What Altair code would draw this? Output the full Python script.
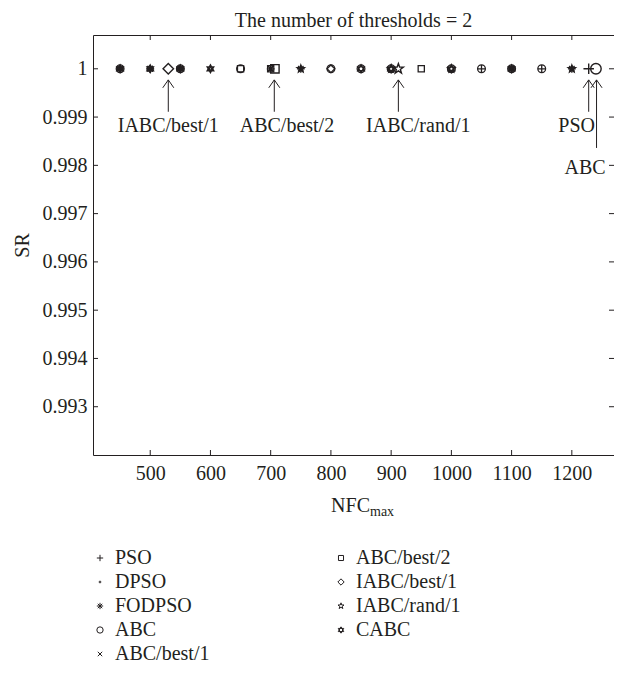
import altair as alt
import pandas as pd

INK = "#231f20"
FONT = "Liberation Serif"
FS = 20
W, H = 521, 420

# ---- data ----
methods = ["PSO", "DPSO", "FODPSO", "ABC", "ABC/best/1",
           "ABC/best/2", "IABC/best/1", "IABC/rand/1", "CABC"]

nfc_pso = [500, 550, 1050, 1150]
sr_pso = [1, 1, 1, 1]
nfc_dpso = [450, 500, 600, 700]
sr_dpso = [1, 1, 1, 1]
nfc_fodpso = [450, 500, 550, 700, 750, 1100, 1200]
sr_fodpso = [1, 1, 1, 1, 1, 1, 1]
nfc_abc = [450, 550, 650, 800, 850, 900, 1000, 1050, 1100, 1150]
sr_abc = [1, 1, 1, 1, 1, 1, 1, 1, 1, 1]
nfc_abc_best1 = [500, 700, 1100]
sr_abc_best1 = [1, 1, 1]
nfc_abc_best2 = [650, 700, 950]
sr_abc_best2 = [1, 1, 1]
nfc_iabc_best1 = [800]
sr_iabc_best1 = [1]
nfc_iabc_rand1 = [750, 900, 1000, 1200]
sr_iabc_rand1 = [1, 1, 1, 1]
nfc_cabc = [450, 500, 550, 600, 850, 900, 1000, 1100]
sr_cabc = [1, 1, 1, 1, 1, 1, 1, 1]

# highlighted (annotated) points
hl_method = ["IABC/best/1", "ABC/best/2", "IABC/rand/1", "PSO", "ABC"]
hl_nfc = [530, 707, 912, 1228, 1240]
hl_sr = [1, 1, 1, 1, 1]

# annotations
ann_text = ["IABC/best/1", "ABC/best/2", "IABC/rand/1", "PSO", "ABC"]
ann_arrow_x = [530, 706, 912, 1228, 1241]
ann_head_y = [0.99977, 0.99977, 0.99977, 0.99977, 0.99977]
ann_tail_y = [0.99911, 0.99911, 0.99911, 0.99911, 0.99836]
ann_text_x = [530, 727, 945, 1208, 1222]
ann_text_y = [0.99882, 0.99882, 0.99882, 0.99882, 0.99795]

x_ticks = [500, 600, 700, 800, 900, 1000, 1100, 1200]
y_ticks = [0.993, 0.994, 0.995, 0.996, 0.997, 0.998, 0.999, 1.0]

# ---- build tables ----
series = [
    ("PSO", nfc_pso, sr_pso), ("DPSO", nfc_dpso, sr_dpso),
    ("FODPSO", nfc_fodpso, sr_fodpso), ("ABC", nfc_abc, sr_abc),
    ("ABC/best/1", nfc_abc_best1, sr_abc_best1),
    ("ABC/best/2", nfc_abc_best2, sr_abc_best2),
    ("IABC/best/1", nfc_iabc_best1, sr_iabc_best1),
    ("IABC/rand/1", nfc_iabc_rand1, sr_iabc_rand1),
    ("CABC", nfc_cabc, sr_cabc),
]
rows = []
for m, xs_, ys_ in series:
    for xv, yv in zip(xs_, ys_):
        rows.append({"method": m, "NFC": xv, "SR": yv})
pts = pd.DataFrame(rows)
hl = pd.DataFrame({"method": hl_method, "NFC": hl_nfc, "SR": hl_sr})
ann = pd.DataFrame({"text": ann_text, "NFC": ann_arrow_x, "SR": ann_head_y,
                    "SR2": ann_tail_y, "tx": ann_text_x, "ty": ann_text_y})
xt = pd.DataFrame({"NFC": x_ticks})
yt = pd.DataFrame({"SR": y_ticks})

# ---- shapes ----
P_PLUS = "M-1,0L1,0M0,-1L0,1"
P_DOT = "M-0.3,0A0.3,0.3 0 1,0 0.3,0A0.3,0.3 0 1,0 -0.3,0Z"
P_AST = "M0,-1L0,1M-1,0L1,0M-0.7,-0.7L0.7,0.7M-0.7,0.7L0.7,-0.7"
P_X = "M-0.7,-0.7L0.7,0.7M-0.7,0.7L0.7,-0.7"
P_SQ = "M-0.8,-0.8L0.8,-0.8L0.8,0.8L-0.8,0.8Z"
P_DIA = "M0,-1L1,0L0,1L-1,0Z"
P_STAR = ("M0,-1L0.235,-0.324L0.951,-0.309L0.38,0.124L0.588,0.809L0,0.4"
          "L-0.588,0.809L-0.38,0.124L-0.951,-0.309L-0.235,-0.324Z")
P_HEX = "M0,-1L0.866,0.5L-0.866,0.5ZM0,1L0.866,-0.5L-0.866,-0.5Z"
shape_of = {"PSO": P_PLUS, "DPSO": P_DOT, "FODPSO": P_AST, "ABC": "circle",
            "ABC/best/1": P_X, "ABC/best/2": P_SQ, "IABC/best/1": P_DIA,
            "IABC/rand/1": P_STAR, "CABC": P_HEX}
shape_scale = alt.Scale(domain=methods, range=[shape_of[m] for m in methods])

xs = alt.Scale(domain=[405, 1270], nice=False, zero=False)
ys = alt.Scale(domain=[0.992, 1.0007], nice=False, zero=False)

x_enc = alt.X("NFC:Q", scale=xs, axis=alt.Axis(
    values=x_ticks, format="d", tickSize=0, domain=False, grid=False,
    title=None, labelFont=FONT, labelFontSize=FS, labelColor=INK,
    labelPadding=8))
y_enc = alt.Y("SR:Q", scale=ys, axis=alt.Axis(
    values=y_ticks, format=".3~f", tickSize=0, domain=False, grid=False,
    title="SR", titleFont=FONT, titleFontSize=FS, titleFontWeight="normal",
    titleColor=INK, titlePadding=10,
    labelFont=FONT, labelFontSize=FS, labelColor=INK, labelPadding=6))

base_pts = alt.Chart(pts).mark_point(
    filled=False, color=INK, strokeWidth=1.3, size=60, opacity=1
).encode(
    x=x_enc, y=y_enc,
    shape=alt.Shape("method:N", scale=shape_scale, legend=alt.Legend(
        orient="none", legendX=-3, legendY=513, columns=2, columnPadding=121,
        title=None, labelFont=FONT, labelFontSize=FS, labelColor=INK,
        symbolSize=40, symbolStrokeWidth=1, symbolStrokeColor=INK,
        rowPadding=4, labelOffset=5, padding=0))
)

hl_pts = alt.Chart(hl).mark_point(
    filled=False, color=INK, strokeWidth=1.4, size=110, opacity=1
).encode(x="NFC:Q", y="SR:Q",
         shape=alt.Shape("method:N", scale=shape_scale, legend=None))

arrows = alt.Chart(ann).mark_rule(color=INK, strokeWidth=1).encode(
    x="NFC:Q", y="SR:Q", y2="SR2:Q")
heads = alt.Chart(ann).mark_point(
    shape="M-0.7,1L0,0L0.7,1", size=250, color=INK, filled=False,
    strokeWidth=1, opacity=1).encode(x="NFC:Q", y="SR:Q")
labels = alt.Chart(ann).mark_text(
    font=FONT, fontSize=FS, color=INK, baseline="middle", align="center"
).encode(x=alt.X("tx:Q"), y=alt.Y("ty:Q"), text="text:N")

tick_b = alt.Chart(xt).mark_rule(color=INK, strokeWidth=1).encode(
    x="NFC:Q", y=alt.value(H), y2=alt.value(H - 5))
tick_t = alt.Chart(xt).mark_rule(color=INK, strokeWidth=1).encode(
    x="NFC:Q", y=alt.value(0), y2=alt.value(5))
tick_l = alt.Chart(yt).mark_rule(color=INK, strokeWidth=1).encode(
    y="SR:Q", x=alt.value(0), x2=alt.value(5))
tick_r = alt.Chart(yt).mark_rule(color=INK, strokeWidth=1).encode(
    y="SR:Q", x=alt.value(W), x2=alt.value(W - 5))

nfc_t = alt.Chart(pd.DataFrame({"t": ["NFC"]})).mark_text(
    font=FONT, fontSize=FS, color=INK, align="right", baseline="alphabetic"
).encode(x=alt.value(277), y=alt.value(477), text="t:N")
max_t = alt.Chart(pd.DataFrame({"t": ["max"]})).mark_text(
    font=FONT, fontSize=14, color=INK, align="left", baseline="alphabetic"
).encode(x=alt.value(277), y=alt.value(481), text="t:N")

chart = alt.layer(
    base_pts, tick_b, tick_t, tick_l, tick_r, hl_pts, arrows, heads, labels,
    nfc_t, max_t
).properties(
    width=W, height=H,
    title=alt.TitleParams("The number of thresholds = 2", font=FONT,
                          fontSize=20, fontWeight="normal", color=INK,
                          offset=4, anchor="middle"),
    padding={"left": 85, "top": 27, "right": 0, "bottom": 210},
    autosize=alt.AutoSizeParams(type="none"),
).configure_view(stroke=INK, strokeWidth=1)

chart.save("out.html", embed_options={"renderer": "svg", "actions": False})
